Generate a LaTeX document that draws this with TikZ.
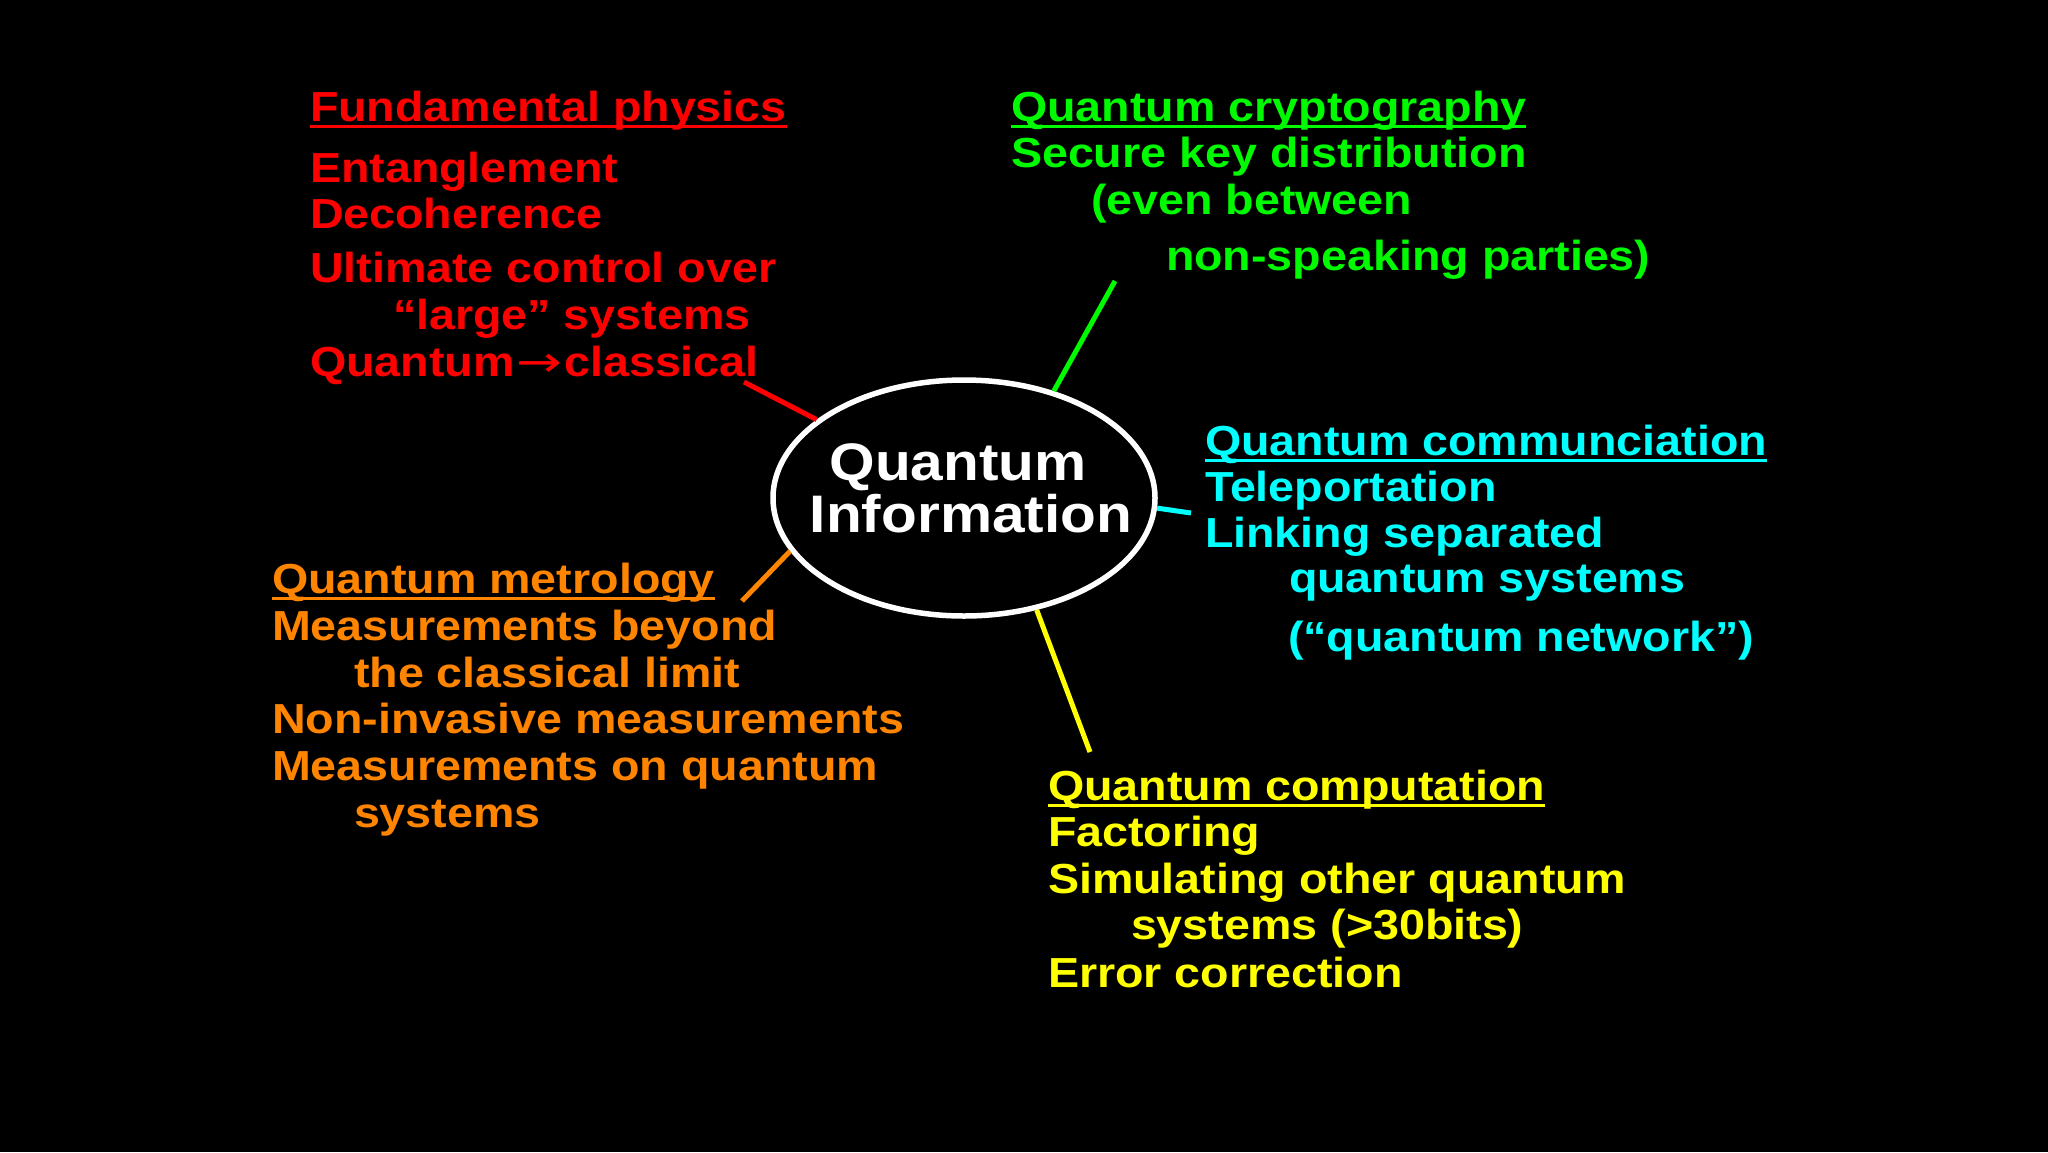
\documentclass[tikz,border=0pt]{standalone}
\usepackage{fontspec}
\setmainfont{Liberation Sans}[FakeStretch=1.11]
\newfontfamily\arrowfont{DejaVu Sans}[FakeStretch=1.3]
\usetikzlibrary{shapes.geometric}
\definecolor{qred}{RGB}{255,0,0}
\definecolor{qgreen}{RGB}{0,250,0}
\definecolor{qcyan}{RGB}{0,255,255}
\definecolor{qyellow}{RGB}{255,255,0}
\definecolor{qorange}{RGB}{255,132,0}
\tikzset{
  txt/.style={anchor=base west, inner sep=0pt, outer sep=0pt, font=\fontsize{42}{50}\selectfont\bfseries},
  ctxt/.style={anchor=base, inner sep=0pt, outer sep=0pt, text=white, font=\fontsize{52.8}{60}\selectfont\bfseries},
  uline/.style={line width=2.5pt},
  conn/.style={line width=5pt},
}
\newcommand{\headline}[1]{\draw[uline] ([yshift=-5.5pt]#1.base west) -- ([yshift=-5.5pt]#1.base east);}
\begin{document}
\begin{tikzpicture}[x=1pt,y=-1pt]
\fill[black] (0,0) rectangle (2048,1152);
\useasboundingbox (0,0) rectangle (2048,1152);

% central ellipse
\node[ellipse, draw=white, line width=5.5pt, minimum width=382pt, minimum height=236pt, inner sep=0pt] (qi) at (964,498) {};
\node[ctxt] (qt1) at (958,480) {Quantum};
\node[ctxt] (qt2) at (971,532) {Information};

% red group
\begin{scope}[text=qred, qred]
\node[txt] (rh) at (310,121) {Fundamental physics};
\headline{rh}
\node[txt] (r1) at (310,182) {Entanglement};
\node[txt] (r2) at (310,228) {Decoherence};
\node[txt] (r3) at (310,282) {Ultimate control over};
\node[txt] (r4) at (393,329) {“large” systems};
\node[txt] (r5) at (310,376) {Quantum\kern2pt{\arrowfont\mdseries →}\kern2pt classical};
\coordinate (rc) at (744,382);
\draw[conn] (rc) -- (qi.152.6);
\end{scope}

% green group
\begin{scope}[text=qgreen, qgreen]
\node[txt] (gh) at (1011,121) {Quantum cryptography};
\headline{gh}
\node[txt] (g1) at (1011,167) {Secure key distribution};
\node[txt] (g2) at (1091,214) {(even between};
\node[txt] (g3) at (1166,270) {non-speaking parties)};
\coordinate (gc) at (1115,281);
\draw[conn] (gc) -- (qi.50.7);
\end{scope}

% cyan group
\begin{scope}[text=qcyan, qcyan]
\node[txt] (ch) at (1205,455) {Quantum communciation};
\headline{ch}
\node[txt] (c1) at (1205,501) {Teleportation};
\node[txt] (c2) at (1205,547) {Linking separated};
\node[txt] (c3) at (1289,592) {quantum systems};
\node[txt] (c4) at (1288,651) {(“quantum network”)};
\coordinate (cc) at (1191,513);
\draw[conn] (cc) -- (qi.-3.6);
\end{scope}

% yellow group
\begin{scope}[text=qyellow, qyellow]
\node[txt] (yh) at (1048,800) {Quantum computation};
\headline{yh}
\node[txt] (y1) at (1048,846) {Factoring};
\node[txt] (y2) at (1048,893) {Simulating other quantum};
\node[txt] (y3) at (1131,939) {systems (>30bits)};
\node[txt] (y4) at (1048,987) {Error correction};
\coordinate (yc) at (1090,752);
\draw[conn] (yc) -- (qi.-57.4);
\end{scope}

% orange group
\begin{scope}[text=qorange, qorange]
\node[txt] (oh) at (272,593) {Quantum metrology};
\headline{oh}
\node[txt] (o1) at (272,640) {Measurements beyond};
\node[txt] (o2) at (354,687) {the classical limit};
\node[txt] (o3) at (272,733) {Non-invasive measurements};
\node[txt] (o4) at (272,780) {Measurements on quantum};
\node[txt] (o5) at (354,827) {systems};
\coordinate (oc) at (742,601);
\draw[conn] (oc) -- (qi.197.2);
\end{scope}
\end{tikzpicture}
\end{document}
